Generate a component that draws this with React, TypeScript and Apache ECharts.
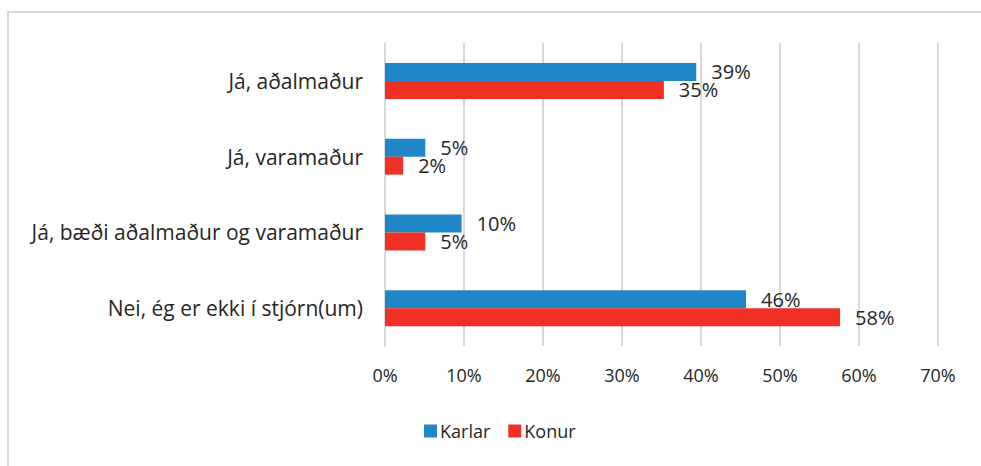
import React, { useEffect, useRef } from "react";
import * as echarts from "echarts";

const categories = [
  "Já, aðalmaður",
  "Já, varamaður",
  "Já, bæði aðalmaður og varamaður",
  "Nei, ég er ekki í stjórn(um)",
];
const karlar = [39.4, 5.1, 9.7, 45.7];
const konur = [35.3, 2.3, 5.1, 57.6];
const xTicks = [0, 10, 20, 30, 40, 50, 60, 70];

const FONT = "'Open Sans', 'Noto Sans', sans-serif";
const TEXT = "#262626";

export default function App() {
  const ref = useRef<HTMLDivElement>(null);
  useEffect(() => {
    if (!ref.current) return;
    const chart = echarts.init(ref.current, null, { renderer: "svg" });
    const label = {
      show: true,
      position: "right",
      distance: 15,
      color: TEXT,
      fontSize: 20,
      fontFamily: FONT,
      formatter: (p: any) => Math.round(p.value) + "%",
    };
    chart.setOption({
      animation: false,
      textStyle: { fontFamily: FONT },
      graphic: [
        {
          type: "rect",
          shape: { x: 8, y: 12, width: 990, height: 470 },
          style: { fill: "none", stroke: "#d9d9d9", lineWidth: 2 },
          silent: true,
        },
      ],
      grid: { left: 385, right: 43, top: 43, bottom: 120, containLabel: false },
      legend: {
        data: ["Karlar", "Konur"],
        left: 419,
        top: 417,
        itemWidth: 13,
        itemHeight: 13,
        itemGap: 18,
        icon: "rect",
        textStyle: { color: TEXT, fontSize: 18, fontFamily: FONT, padding: [0, 0, 0, -2] },
      },
      xAxis: {
        type: "value",
        min: xTicks[0],
        max: xTicks[xTicks.length - 1],
        interval: 10,
        axisLine: { show: false },
        axisTick: { show: false },
        splitLine: { show: true, lineStyle: { color: "#d9d9d9", width: 2 } },
        axisLabel: {
          color: TEXT,
          fontSize: 18,
          fontFamily: FONT,
          margin: 20,
          formatter: (v: number) => v + "%",
        },
      },
      yAxis: {
        type: "category",
        data: categories,
        inverse: true,
        axisLine: { show: true, lineStyle: { color: "#d9d9d9", width: 2 } },
        axisTick: { show: false },
        axisLabel: { color: TEXT, fontSize: 21, fontFamily: FONT, margin: 22 },
      },
      series: [
        {
          name: "Karlar",
          type: "bar",
          data: karlar,
          barWidth: 18,
          barGap: "0%",
          itemStyle: { color: "#1f86c8" },
          label,
        },
        {
          name: "Konur",
          type: "bar",
          data: konur,
          barWidth: 18,
          itemStyle: { color: "#ee3124" },
          label,
        },
      ],
    });
    return () => chart.dispose();
  }, []);
  return <div ref={ref} style={{ width: 981, height: 466, position: "absolute", left: 0, top: 0 }} />;
}
